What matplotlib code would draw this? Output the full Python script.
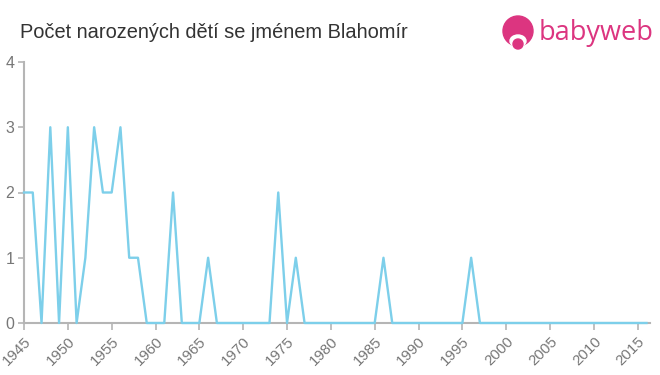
import matplotlib.pyplot as plt
import matplotlib.patches as patches
import numpy as np

plt.rcParams['font.family'] = ['Liberation Sans', 'DejaVu Sans']

# = = = = = = = = = = =
years = list(range(1945, 2017))
births = [2, 2, 0, 3, 0, 3, 0, 1, 3, 2, 2, 3, 1, 1, 0, 0, 0, 2, 0, 0,
          0, 1, 0, 0, 0, 0, 0, 0, 0, 2, 0, 1, 0, 0, 0, 0, 0, 0, 0, 0,
          0, 1, 0, 0, 0, 0, 0, 0, 0, 0, 0, 1, 0, 0, 0, 0, 0, 0, 0, 0,
          0, 0, 0, 0, 0, 0, 0, 0, 0, 0, 0, 0]
x_ticks = list(range(1945, 2016, 5))
y_ticks = [0, 1, 2, 3, 4]
title = 'Počet narozených dětí se jménem Blahomír'

# = = = = = = = = = = =
fig = plt.figure(figsize=(6.6, 3.75), dpi=100)
ax = fig.add_axes([24 / 660, 1 - 323 / 375, 626 / 660, 261 / 375])

ax.plot(years, births, color='#7dcfea', lw=1.7, zorder=3, clip_on=False)

ax.set_xlim(1945, 2016.4)
ax.set_ylim(0, 4)
ax.set_xticks(x_ticks)
ax.set_yticks(y_ticks)
ax.set_xticklabels([str(y) for y in x_ticks], rotation=45, ha='right',
                   rotation_mode='anchor')

for side in ['top', 'right']:
    ax.spines[side].set_visible(False)
for side in ['left', 'bottom']:
    ax.spines[side].set_color('#b5b5b5')
    ax.spines[side].set_linewidth(1.5)
ax.tick_params(axis='both', colors='#b5b5b5', labelcolor='#777777',
               width=1.2, length=5)
ax.tick_params(axis='x', pad=3, labelsize=10.8)
ax.tick_params(axis='y', pad=3, length=4, labelsize=11.5)

fig.text(20 / 660, 1 - 38 / 375, title, fontsize=14.4, color='#333333',
         ha='left', va='baseline')

# logo
pink = '#dc3580'
lax = fig.add_axes([0, 0, 1, 1], facecolor='none')
lax.set_xlim(0, 660)
lax.set_ylim(375, 0)
lax.axis('off')
lax.add_patch(patches.Circle((518, 31), 15, color=pink))
lax.add_patch(patches.Ellipse((518, 41), 16, 12, color='white'))
lax.add_patch(patches.Circle((518, 44), 5, color=pink))
lax.text(539, 40, 'babyweb', fontsize=19.5, color=pink, ha='left',
         va='baseline', family=['Open Sans', 'DejaVu Sans'])

plt.savefig('out.png', dpi=100)
